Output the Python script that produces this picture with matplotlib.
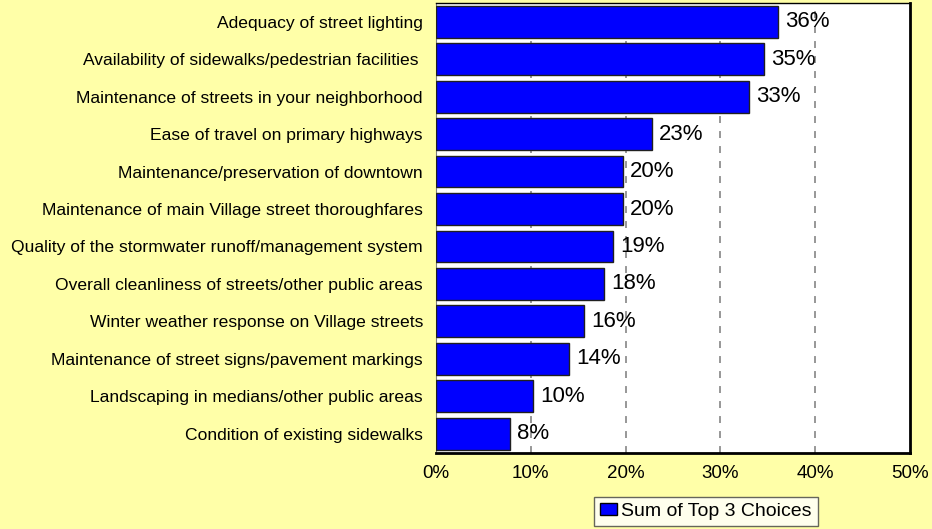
import matplotlib

matplotlib.use("Agg")
import matplotlib.pyplot as plt
from matplotlib.patches import Patch
from matplotlib.ticker import FuncFormatter

plt.rcParams["font.family"] = ["Liberation Sans", "DejaVu Sans"]
plt.rcParams["lines.scale_dashes"] = False

# Top to bottom, as listed in the survey summary
CATEGORIES = [
    "Adequacy of street lighting",
    "Availability of sidewalks/pedestrian facilities ",
    "Maintenance of streets in your neighborhood",
    "Ease of travel on primary highways",
    "Maintenance/preservation of downtown",
    "Maintenance of main Village street thoroughfares",
    "Quality of the stormwater runoff/management system",
    "Overall cleanliness of streets/other public areas",
    "Winter weather response on Village streets",
    "Maintenance of street signs/pavement markings",
    "Landscaping in medians/other public areas",
    "Condition of existing sidewalks",
]
SHARES = [0.361, 0.346, 0.330, 0.228, 0.197, 0.197, 0.187, 0.177, 0.156, 0.140, 0.102, 0.078]
X_TICKS = [0.0, 0.1, 0.2, 0.3, 0.4, 0.5]
SERIES_NAME = "Sum of Top 3 Choices"

BG = "#FFFFA8"
BAR = "#0000FF"

fig = plt.figure(figsize=(9.32, 5.29), dpi=100, facecolor=BG)
ax = fig.add_axes([0.4678, 0.1446, 0.5086, 0.8497])
ax.set_facecolor("white")

ypos = list(range(len(CATEGORIES)))
ax.barh(ypos, SHARES, height=0.85, color=BAR, edgecolor="#202020", linewidth=1.0, zorder=3)

# dashed gridlines; the 50% line is the frame itself
for x in X_TICKS[1:-1]:
    ax.axvline(x, color="#7a7a7a", linewidth=1.1, dashes=(5.0, 5.8), zorder=1)

for y, v in zip(ypos, SHARES):
    ax.text(v + 0.0075, y, f"{v:.0%}", va="center", ha="left", fontsize=16, zorder=4)

ax.set_xlim(0, 0.5)
ax.set_ylim(len(CATEGORIES) - 0.5, -0.5)
ax.set_xticks(X_TICKS)
ax.xaxis.set_major_formatter(FuncFormatter(lambda v, _: f"{v:.0%}"))
ax.set_yticks(ypos)
ax.set_yticklabels(CATEGORIES)
ax.tick_params(axis="x", length=0, pad=9, labelsize=13.5)
ax.tick_params(axis="y", length=0, pad=9.4, labelsize=12.6)

ax.spines["left"].set_color("#808080")
ax.spines["left"].set_linewidth(0.8)
ax.spines["top"].set_color("black")
ax.spines["top"].set_linewidth(1.0)
ax.spines["right"].set_color("black")
ax.spines["right"].set_linewidth(2.0)
ax.spines["bottom"].set_color("black")
ax.spines["bottom"].set_linewidth(2.0)

handle = Patch(facecolor=BAR, edgecolor="black", linewidth=1.0, label=SERIES_NAME)
leg = fig.legend(
    handles=[handle],
    loc="center",
    bbox_to_anchor=(0.7575, 0.0331),
    fontsize=14,
    frameon=True,
    fancybox=False,
    shadow=False,
    borderpad=0.3,
    handlelength=0.86,
    handleheight=0.57,
    handletextpad=0.23,
    borderaxespad=0,
)
leg.get_frame().set_edgecolor("#404040")
leg.get_frame().set_linewidth(1.0)
leg.get_frame().set_facecolor("white")

fig.savefig("out.png", dpi=100, facecolor=BG)
